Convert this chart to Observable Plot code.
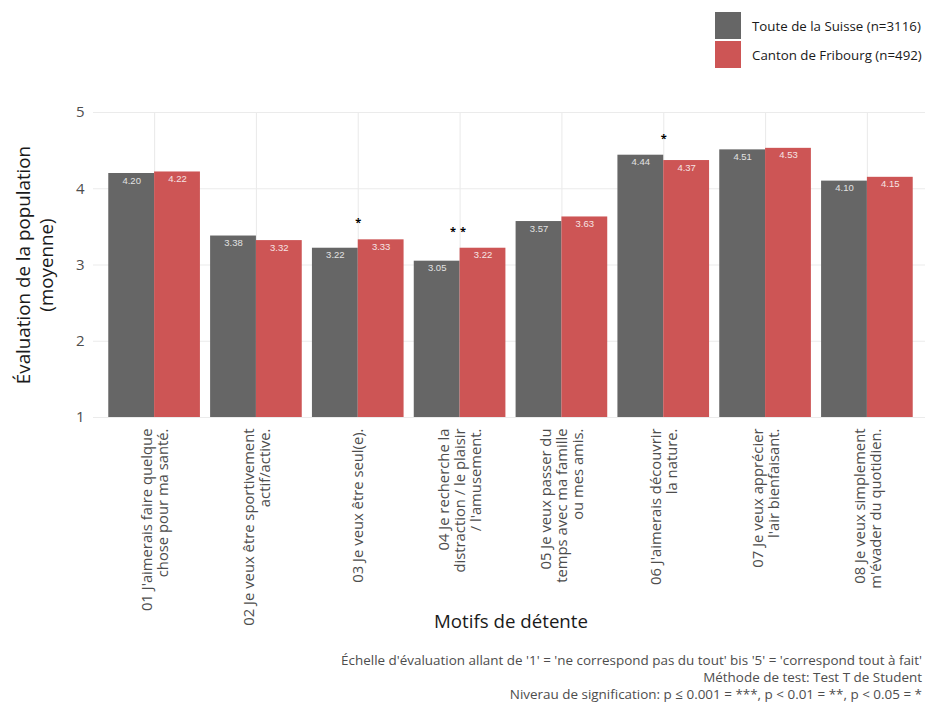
<!DOCTYPE html>
<html>
<head>
<meta charset="utf-8">
<script src="https://cdn.jsdelivr.net/npm/d3@7"></script>
<script src="https://cdn.jsdelivr.net/npm/@observablehq/plot@0.6"></script>
<style>
  html, body { margin: 0; padding: 0; background: #fff; }
  body { width: 925px; height: 704px; overflow: hidden; font-family: "Open Sans", sans-serif; }
  #legend { position: relative; height: 85px; }
  .lg-item { position: absolute; left: 715px; display: flex; align-items: center; font-size: 13.3px; color: #1a1a1a; }
  .lg-sw { width: 26px; height: 27px; margin-right: 11px; }
  #chart svg { display: block; }
  #caption { text-align: right; padding-right: 3px; font-size: 13.45px; line-height: 17px; color: #4d4d4d; }
</style>
</head>
<body>
<div id="legend"></div>
<div id="chart"></div>
<div id="caption"></div>
<script>
// ---- data ----
const categories = [
  "01 J'aimerais faire quelque\nchose pour ma santé.",
  "02 Je veux être sportivement\nactif/active.",
  "03 Je veux être seul(e).",
  "04 Je recherche la\ndistraction / le plaisir\n/ l'amusement.",
  "05 Je veux passer du\ntemps avec ma famille\nou mes amis.",
  "06 J'aimerais découvrir\nla nature.",
  "07 Je veux apprécier\nl'air bienfaisant.",
  "08 Je veux simplement\nm'évader du quotidien."
];
const seriesNames = ["Toute de la Suisse (n=3116)", "Canton de Fribourg (n=492)"];
const suisseValues = [4.20, 3.38, 3.22, 3.05, 3.57, 4.44, 4.51, 4.10];
const fribourgValues = [4.22, 3.32, 3.33, 3.22, 3.63, 4.37, 4.53, 4.15];
const significance = ["", "", "*", "**", "", "*", "", ""];
const yTicks = [1, 2, 3, 4, 5];
const yTitle = "Évaluation de la population\n(moyenne)";
const xTitle = "Motifs de détente";
const captionLines = [
  "Échelle d'évaluation allant de '1' = 'ne correspond pas du tout' bis '5' = 'correspond tout à fait'",
  "Méthode de test: Test T de Student",
  "Niverau de signification: p ≤ 0.001 = ***, p < 0.01 = **, p < 0.05 = *"
];
const colors = ["#666666", "#cd5555"];

// ---- table ----
const rows = categories.map((c, i) => ({
  i, cat: c, suisse: suisseValues[i], fribourg: fribourgValues[i], sig: significance[i],
  top: Math.max(suisseValues[i], fribourgValues[i])
}));
const idx = rows.map(d => d.i);
const half = 0.9 / 2;   // ggplot dodge width 0.9
const yMin = yTicks[0];
const fmt = d3.format(".2f");

// ---- legend ----
const legend = document.getElementById("legend");
seriesNames.forEach((name, k) => {
  const item = document.createElement("div");
  item.className = "lg-item";
  item.style.top = (12 + k * 29) + "px";
  item.innerHTML = `<div class="lg-sw" style="background:${colors[k]}"></div><span>${name}</span>`;
  legend.appendChild(item);
});

// ---- chart ----
const plot = Plot.plot({
  width: 925,
  height: 567,
  marginLeft: 93,
  marginRight: -3,
  marginTop: 27,
  marginBottom: 235,
  style: { fontFamily: "Open Sans", background: "white", overflow: "visible" },
  x: { domain: [-0.6, categories.length - 1 + 0.6], label: null },
  y: { domain: [yMin, yTicks[yTicks.length - 1]], label: null },
  marks: [
    Plot.gridY(yTicks, { stroke: "#ebebeb", strokeOpacity: 1, strokeWidth: 1.1 }),
    Plot.gridX(idx, { stroke: "#ebebeb", strokeOpacity: 1, strokeWidth: 1.1 }),
    Plot.rectY(rows, { x1: d => d.i - half, x2: d => d.i, y1: yMin, y2: "suisse", fill: colors[0] }),
    Plot.rectY(rows, { x1: d => d.i, x2: d => d.i + half, y1: yMin, y2: "fribourg", fill: colors[1] }),
    Plot.text(rows, { x: d => d.i - half / 2, y: "suisse", text: d => fmt(d.suisse), dy: 7, lineAnchor: "middle", fontSize: 9.5, fontFamily: "Liberation Sans", fill: "#e2e2e2" }),
    Plot.text(rows, { x: d => d.i + half / 2, y: "fribourg", text: d => fmt(d.fribourg), dy: 7, lineAnchor: "middle", fontSize: 9.5, fontFamily: "Liberation Sans", fill: "#f6e4e4" }),
    Plot.text(rows.filter(d => d.sig), { x: "i", y: "top", text: "sig", dy: -17, lineAnchor: "middle", fontSize: 11, fontWeight: "bold", fill: "#000" }),
    Plot.axisY(yTicks, { tickSize: 0, tickPadding: 9, tickFormat: d3.format("d"), fontSize: 15, fill: "#4d4d4d", label: null }),
    Plot.axisX(idx, { tickFormat: i => categories[i], tickRotate: -90, tickSize: 0, tickPadding: 11, textAnchor: "end", lineAnchor: "middle", lineHeight: 1.08, fontSize: 14.8, fill: "#4d4d4d", label: null }),
    Plot.text([xTitle], { frameAnchor: "bottom", dy: 205, fontSize: 18.7, fill: "#1a1a1a", lineAnchor: "middle" }),
    Plot.text([yTitle], { frameAnchor: "left", dx: -59, rotate: -90, textAnchor: "middle", fontSize: 18.8, lineHeight: 1.22, fill: "#1a1a1a", lineAnchor: "middle" })
  ]
});
document.getElementById("chart").appendChild(plot);
// spread the double star like the original
d3.select(plot).selectAll("text").filter(function () { return this.textContent === "**"; }).style("letter-spacing", "4px");

document.getElementById("caption").innerHTML = captionLines.map(l => `<div>${l.replace(/</g, "&lt;")}</div>`).join("");
</script>
</body>
</html>
